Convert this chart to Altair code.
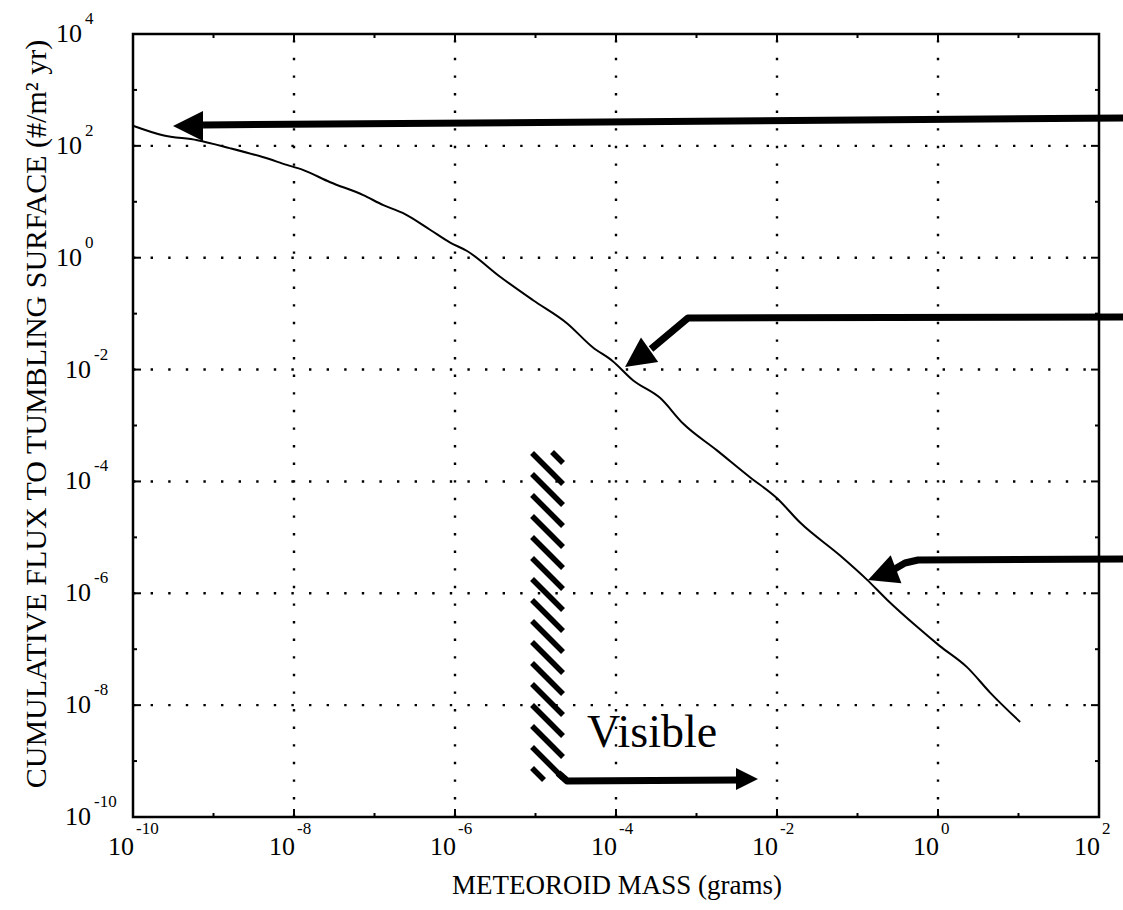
import altair as alt
import pandas as pd
import numpy as np

FONT = "Liberation Serif"

# ---------------- data (log10 values) ----------------
curve_log_mass = [-10.0, -9.63, -9.2, -8.8, -8.39, -8.09, -7.89, -7.55, -7.14, -6.89,
                  -6.65, -6.31, -6.06, -5.85, -5.44, -5.03, -4.61, -4.29, -4.04, -3.79,
                  -3.45, -3.17, -2.75, -2.34, -2.0, -1.71, -1.22, -0.88, -0.63, -0.26,
                  0.02, 0.36, 0.65, 1.02]
curve_log_flux = [2.36, 2.19, 2.10, 1.96, 1.80, 1.66, 1.57, 1.35, 1.12, 0.94,
                  0.80, 0.50, 0.27, 0.12, -0.34, -0.76, -1.17, -1.60, -1.85, -2.19,
                  -2.51, -2.96, -3.44, -3.92, -4.30, -4.74, -5.32, -5.76, -6.12, -6.60,
                  -6.94, -7.32, -7.78, -8.30]

x_exponents = [-10, -8, -6, -4, -2, 0, 2]
y_exponents = [-10, -8, -6, -4, -2, 0, 2, 4]

# annotation arrows: polyline points (log10 mass, log10 flux), tip, head angle, head size
arrow_ids = ["a1", "a2", "a3", "vis"]
arrow_line_mass = [[2.30, -9.13], [2.30, -3.106, -3.565], [2.30, -0.248, -0.410, -0.559],
                   [-4.720, -4.609, -2.460]]
arrow_line_flux = [[2.498, 2.373], [-1.060, -1.078, -1.632], [-5.387, -5.405, -5.458, -5.583],
                   [-9.213, -9.356, -9.338]]
arrow_tip_mass = [-9.503, -3.888, -0.869, -2.236]
arrow_tip_flux = [2.355, -1.954, -5.762, -9.320]
arrow_head_angle = [0, 325, 339, 180]
arrow_head_size = [900, 900, 900, 484]

# hatched "visible" limit bar (log10 extents)
hatch_log_mass = [-5.043, -4.658]
hatch_log_flux = [-3.474, -9.338]

visible_label = "Visible"
visible_log_mass = -4.36
visible_log_flux = -8.75

x_title = "METEOROID MASS (grams)"
y_title = "CUMULATIVE FLUX TO TUMBLING SURFACE (#/m\u00b2 yr)"

# ---------------- layout ----------------
W, H = 966, 783
XMIN, XMAX, YMIN, YMAX = -10, 2, -10, 4
ppd_x = W / (XMAX - XMIN)
ppd_y = H / (YMAX - YMIN)

xs = alt.Scale(type="log", domain=[10.0 ** XMIN, 10.0 ** XMAX], nice=False)
ys = alt.Scale(type="log", domain=[10.0 ** YMIN, 10.0 ** YMAX], nice=False)


def X(f="mass"):
    return alt.X(f"{f}:Q", scale=xs, axis=None)


def Y(f="flux"):
    return alt.Y(f"{f}:Q", scale=ys, axis=None)


# grid
gx = pd.DataFrame({"mass": [10.0 ** e for e in x_exponents[1:-1]],
                   "flux": 10.0 ** YMIN, "flux2": 10.0 ** YMAX})
gy = pd.DataFrame({"flux": [10.0 ** e for e in y_exponents[1:-1]],
                   "mass": 10.0 ** XMIN, "mass2": 10.0 ** XMAX})
grid_style = dict(color="black", strokeWidth=2.4, strokeDash=[2.4, 15.2], strokeCap="butt")
grid_v = alt.Chart(gx).mark_rule(**grid_style).encode(x=X(), y=Y(), y2="flux2:Q")
grid_h = alt.Chart(gy).mark_rule(**grid_style).encode(y=Y(), x=X(), x2="mass2:Q")

# inward ticks on all four sides
rows = []
for e in range(XMIN + 1, XMAX):
    L = 8 if e % 2 == 0 else 4
    v = 10.0 ** e
    rows.append(dict(mass=v, mass2=v, flux=10.0 ** YMIN, flux2=10.0 ** (YMIN + L / ppd_y)))
    rows.append(dict(mass=v, mass2=v, flux=10.0 ** YMAX, flux2=10.0 ** (YMAX - L / ppd_y)))
for e in range(YMIN + 1, YMAX):
    L = 8 if e % 2 == 0 else 4
    v = 10.0 ** e
    rows.append(dict(flux=v, flux2=v, mass=10.0 ** XMIN, mass2=10.0 ** (XMIN + L / ppd_x)))
    rows.append(dict(flux=v, flux2=v, mass=10.0 ** XMAX, mass2=10.0 ** (XMAX - L / ppd_x)))
ticks = alt.Chart(pd.DataFrame(rows)).mark_rule(color="black", strokeWidth=2).encode(
    x=X(), x2="mass2:Q", y=Y(), y2="flux2:Q")

# curve
cdf = pd.DataFrame({"mass": [10.0 ** v for v in curve_log_mass],
                    "flux": [10.0 ** v for v in curve_log_flux],
                    "i": range(len(curve_log_mass))})
curve = alt.Chart(cdf).mark_line(color="black", strokeWidth=2, interpolate="monotone").encode(
    x=X(), y=Y(), order="i:Q")

# hatch segments, clipped to the bar
hx0, hx1 = hatch_log_mass
hy0, hy1 = hatch_log_flux
bw = (hx1 - hx0) * ppd_x
bh = (hy0 - hy1) * ppd_y
spacing = 21.0
hrows = []
k = -2
while True:
    y0 = 1.0 + k * spacing
    if y0 > bh:
        break
    t0 = max(0.0, -y0)
    t1 = min(bw, bh - y0)
    if t1 > t0:
        hrows.append(dict(mass=10.0 ** (hx0 + t0 / ppd_x), mass2=10.0 ** (hx0 + t1 / ppd_x),
                          flux=10.0 ** (hy0 - (y0 + t0) / ppd_y),
                          flux2=10.0 ** (hy0 - (y0 + t1) / ppd_y)))
    k += 1
hatch = alt.Chart(pd.DataFrame(hrows)).mark_rule(color="black", strokeWidth=5.5, strokeCap="butt").encode(
    x=X(), x2="mass2:Q", y=Y(), y2="flux2:Q")

# arrows
arows = []
for aid, ms, fs in zip(arrow_ids, arrow_line_mass, arrow_line_flux):
    for j, (m, f) in enumerate(zip(ms, fs)):
        arows.append(dict(id=aid, j=j, mass=10.0 ** m, flux=10.0 ** f))
arrow_lines = alt.Chart(pd.DataFrame(arows)).mark_line(
    color="black", strokeWidth=7, strokeJoin="round").encode(
    x=X(), y=Y(), detail="id:N", order="j:Q")

hdf = pd.DataFrame({"mass": [10.0 ** v for v in arrow_tip_mass],
                    "flux": [10.0 ** v for v in arrow_tip_flux],
                    "ang": arrow_head_angle, "sz": arrow_head_size})
heads = alt.Chart(hdf).mark_point(shape="M0,0L2,-1L2,1Z", filled=True, color="black",
                                  opacity=1, strokeWidth=0).encode(
    x=X(), y=Y(), angle=alt.Angle("ang:Q", scale=None), size=alt.Size("sz:Q", scale=None))

# "Visible"
vdf = pd.DataFrame({"mass": [10.0 ** visible_log_mass], "flux": [10.0 ** visible_log_flux],
                    "t": [visible_label]})
visible = alt.Chart(vdf).mark_text(font=FONT, fontSize=46, align="left", baseline="alphabetic",
                                   color="black").encode(x=X(), y=Y(), text="t:N")

# tick labels
xl = pd.DataFrame({"mass": [10.0 ** e for e in x_exponents], "b": "10",
                   "e": [str(e) for e in x_exponents]})
xlab_base = alt.Chart(xl).mark_text(font=FONT, fontSize=26, align="right", dx=1,
                                    baseline="alphabetic", color="black").encode(
    x=X(), y=alt.value(H + 38), text="b:N")
xlab_exp = alt.Chart(xl).mark_text(font=FONT, fontSize=17, align="left", dx=3,
                                   baseline="alphabetic", color="black").encode(
    x=X(), y=alt.value(H + 17), text="e:N")

yl = pd.DataFrame({"flux": [10.0 ** e for e in y_exponents], "b": "10",
                   "ev": y_exponents, "e": [str(e) for e in y_exponents]})
ylab_base = alt.Chart(yl).transform_calculate(px="datum.ev < 0 ? -42 : -51").mark_text(
    font=FONT, fontSize=26, align="right", baseline="alphabetic", dy=8, color="black").encode(
    x=alt.X("px:Q", scale=None, axis=None), y=Y(), text="b:N")
ylab_exp = alt.Chart(yl).transform_calculate(px="datum.ev < 0 ? -39 : -48").mark_text(
    font=FONT, fontSize=17, align="left", baseline="alphabetic", dy=-10, color="black").encode(
    x=alt.X("px:Q", scale=None, axis=None), y=Y(), text="e:N")

# titles
tdf = pd.DataFrame({"a": [0]})
xt = alt.Chart(tdf).mark_text(font=FONT, fontSize=27, align="center", baseline="alphabetic",
                              color="black").encode(
    x=alt.value(W / 2 + 1), y=alt.value(H + 77), text=alt.value(x_title))
yt = alt.Chart(tdf).mark_text(font=FONT, fontSize=30, align="center", baseline="alphabetic",
                              angle=270, color="black").encode(
    x=alt.value(-87), y=alt.value(380), text=alt.value(y_title))

chart = alt.layer(
    grid_v, grid_h, ticks, curve, hatch, arrow_lines, heads, visible,
    xlab_base, xlab_exp, ylab_base, ylab_exp, xt, yt
).properties(
    width=W, height=H,
    padding={"left": 133, "top": 34, "right": 24, "bottom": 93},
    autosize=alt.AutoSizeParams(type="none"),
    background="white",
).configure_view(stroke="black", strokeWidth=2.5)

chart.save("out.html", embed_options={"renderer": "svg", "actions": False})
